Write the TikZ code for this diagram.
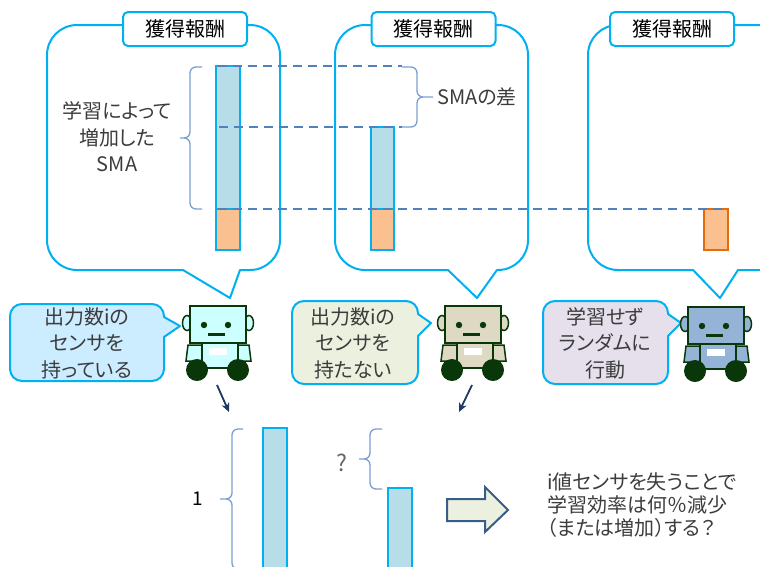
\documentclass[tikz,border=0pt]{standalone}
\usepackage{fontspec}
\setmainfont{Noto Sans CJK JP}[RawFeature={+palt}]
\usetikzlibrary{arrows.meta}

\definecolor{cyanline}{RGB}{0,176,240}
\definecolor{barfill}{RGB}{183,221,232}
\definecolor{orangefill}{RGB}{250,192,144}
\definecolor{orangeline}{RGB}{228,108,10}
\definecolor{dashblue}{RGB}{79,129,189}
\definecolor{bracecol}{RGB}{125,158,210}
\definecolor{navyarrow}{RGB}{31,56,100}
\definecolor{robotdark}{RGB}{10,55,10}
\definecolor{robcyan}{RGB}{204,255,255}
\definecolor{robbeige}{RGB}{221,217,195}
\definecolor{robsteel}{RGB}{149,179,215}
\definecolor{bubcyan}{RGB}{204,236,255}
\definecolor{bubgreen}{RGB}{235,241,222}
\definecolor{bublilac}{RGB}{229,224,236}
\definecolor{blockfill}{RGB}{235,241,222}
\definecolor{blockline}{RGB}{56,93,138}
\definecolor{textgray}{RGB}{60,60,60}

\tikzset{
  callout/.style={draw=cyanline, line width=2pt, line join=round},
  titlebox/.style={draw=cyanline, line width=2pt, fill=white, rounded corners=5pt,
    minimum width=124pt, minimum height=34pt, inner sep=0pt,
    font=\fontsize{20}{24}\selectfont, text=black},
  bubble/.style={draw=cyanline, line width=2pt, line join=round},
  bubbletext/.style={align=center, inner sep=0pt, text=textgray,
    font=\fontsize{20}{26.5}\selectfont},
  bluebar/.style={draw=cyanline, line width=1.5pt, fill=barfill},
  orangebar/.style={draw=cyanline, line width=1.5pt, fill=orangefill},
  dashline/.style={draw=dashblue, line width=1.8pt, dash pattern=on 9pt off 6pt},
  brc/.style={draw=bracecol, line width=1.3pt, rounded corners=6pt},
  smallarrow/.style={draw=navyarrow, line width=1.8pt, -{Stealth[length=9pt,width=8pt]}},
  robotline/.style={draw=robotdark, line width=1.5pt},
  pics/robot/.style={code={
    % ears behind the head
    \draw[robotline, fill=#1] (-3,-17) ellipse [x radius=4.5, y radius=7.5];
    \draw[robotline, fill=#1] (59,-17) ellipse [x radius=4.5, y radius=7.5];
    % arms
    \draw[robotline, fill=#1] (-2,-39) -- (12,-39) -- (12,-55) -- (-4,-55) -- cycle;
    \draw[robotline, fill=#1] (48,-39) -- (59,-39) -- (61,-55) -- (48,-55) -- cycle;
    % body and badge
    \draw[robotline, fill=#1] (12,-37) rectangle (48,-62);
    \fill[white] (19,-42) rectangle (37,-49);
    % head and face
    \draw[robotline, fill=#1] (0,0) rectangle (56,-37);
    \fill[robotdark] (14,-19) circle [radius=3.2];
    \fill[robotdark] (38,-19) circle [radius=3.2];
    \fill[robotdark] (18,-27) rectangle (35,-30);
    % wheels
    \fill[robotdark] (7,-64) circle [radius=11];
    \fill[robotdark] (48,-64) circle [radius=11];
  }}
}

\begin{document}
\begin{tikzpicture}[x=1pt, y=1pt]
\useasboundingbox (0,0) rectangle (760,-566);
\clip (0,0) rectangle (760,-566);

% ---------- reward callouts ----------
\draw[callout] (77,-25) -- (250,-25) arc[start angle=90,end angle=0,radius=30pt]
  -- (280,-240) arc[start angle=0,end angle=-90,radius=30pt]
  -- (240,-270) -- (230,-298) -- (183,-270) -- (77,-270)
  arc[start angle=270,end angle=180,radius=30pt] -- (47,-55)
  arc[start angle=180,end angle=90,radius=30pt] -- cycle;
\draw[callout] (365,-25) -- (498,-25) arc[start angle=90,end angle=0,radius=30pt]
  -- (528,-240) arc[start angle=0,end angle=-90,radius=30pt]
  -- (497,-270) -- (477,-298) -- (448,-270) -- (365,-270)
  arc[start angle=270,end angle=180,radius=30pt] -- (335,-55)
  arc[start angle=180,end angle=90,radius=30pt] -- cycle;
\draw[callout] (618,-25) -- (770,-25) arc[start angle=90,end angle=0,radius=30pt]
  -- (800,-240) arc[start angle=0,end angle=-90,radius=30pt]
  -- (738,-270) -- (720,-298) -- (693,-270) -- (618,-270)
  arc[start angle=270,end angle=180,radius=30pt] -- (588,-55)
  arc[start angle=180,end angle=90,radius=30pt] -- cycle;

\node[titlebox] (title1) at (185,-29) {獲得報酬};
\node[titlebox] (title2) at (433.5,-29) {獲得報酬};
\node[titlebox] (title3) at (672,-29) {獲得報酬};

% ---------- reward bars ----------
\draw[bluebar] (216,-66) rectangle (240,-209);
\draw[orangebar] (216,-209) rectangle (240,-250);
\draw[bluebar] (371,-127) rectangle (394,-209);
\draw[orangebar] (371,-209) rectangle (394,-250);
\draw[orangebar, draw=orangeline] (704,-209) rectangle (728,-250);

% reference levels
\coordinate (topA) at (218,-66);
\coordinate (topB) at (402,-66);
\coordinate (midA) at (219,-127);
\coordinate (midB) at (402,-127);
\coordinate (baseA) at (218,-209);
\coordinate (baseB) at (728,-209);
\draw[dashline] (topA) -- (topB);
\draw[dashline] (midA) -- (midB);
\draw[dashline] (baseA) -- (baseB);

% braces with their labels
\draw[brc] (202,-67) -| (190,-138) -- (180,-138)
           (202,-209) -| (190,-138) -- (180,-138);
\node[bubbletext, text=textgray] (gain) at (117,-137) {学習によって\\増加した\\SMA};
\draw[brc] (402,-67) -| (417,-97) -- (433,-97)
           (402,-127) -| (417,-97) -- (433,-97);
\node[bubbletext, anchor=west] (diff) at (437,-97) {SMAの差};

% ---------- speech bubbles ----------
\draw[bubble, fill=bubcyan] (22,-304) -- (152,-304)
  arc[start angle=90,end angle=0,radius=12pt] -- (164,-317) -- (180,-326) -- (164,-337)
  -- (164,-369) arc[start angle=0,end angle=-90,radius=12pt] -- (22,-381)
  arc[start angle=270,end angle=180,radius=12pt] -- (10,-316)
  arc[start angle=180,end angle=90,radius=12pt] -- cycle;
\node[bubbletext] (say1) at (87,-343) {出力数iの\\センサを\\持っている};

\draw[bubble, fill=bubgreen] (304,-301) -- (406,-301)
  arc[start angle=90,end angle=0,radius=12pt] -- (418,-314) -- (431,-323) -- (418,-336)
  -- (418,-372) arc[start angle=0,end angle=-90,radius=12pt] -- (304,-384)
  arc[start angle=270,end angle=180,radius=12pt] -- (292,-313)
  arc[start angle=180,end angle=90,radius=12pt] -- cycle;
\node[bubbletext] (say2) at (353,-343) {出力数iの\\センサを\\持たない};

\draw[bubble, fill=bublilac] (555,-301) -- (656,-301)
  arc[start angle=90,end angle=0,radius=12pt] -- (668,-314) -- (681,-323) -- (668,-336)
  -- (668,-372) arc[start angle=0,end angle=-90,radius=12pt] -- (555,-384)
  arc[start angle=270,end angle=180,radius=12pt] -- (543,-313)
  arc[start angle=180,end angle=90,radius=12pt] -- cycle;
\node[bubbletext] (say3) at (605,-343) {学習せず\\ランダムに\\行動};

% ---------- robots ----------
\pic at (190,-306) {robot=robcyan};
\pic at (445,-306) {robot=robbeige};
\pic at (688,-307) {robot=robsteel};

% ---------- pointers down ----------
\coordinate (p1s) at (217,-385);
\coordinate (p1e) at (229,-412);
\coordinate (p2s) at (472,-385);
\coordinate (p2e) at (459,-412);
\draw[smallarrow] (p1s) -- (p1e);
\draw[smallarrow] (p2s) -- (p2e);

% ---------- efficiency comparison ----------
\draw[bluebar] (263,-428) rectangle (287,-590);
\draw[bluebar] (388,-488) rectangle (412,-590);
\draw[brc] (243,-429) -| (232,-499) -- (220,-499)
           (243,-569) -| (232,-499) -- (220,-499);
\node[inner sep=0pt, font=\fontsize{19}{21}\selectfont] (one) at (198,-499) {1};
\draw[brc] (382,-429) -| (370,-459) -- (359,-459)
           (382,-489) -| (370,-459) -- (359,-459);
\node[inner sep=0pt, text=black!60, font=\fontsize{23}{25}\selectfont] (ask) at (342,-463) {?};

\draw[draw=blockline, fill=blockfill, line width=2pt, line join=miter]
  (447,-499) -- (485,-499) -- (485,-487) -- (508,-510) -- (485,-532)
  -- (485,-521) -- (447,-521) -- cycle;

\node[anchor=west, align=left, inner sep=0pt, text=textgray,
  font=\fontsize{20}{23}\selectfont] (question) at (547,-505)
  {i値センサを失うことで\\学習効率は何％減少\\（または増加）する？};
\end{tikzpicture}
\end{document}
